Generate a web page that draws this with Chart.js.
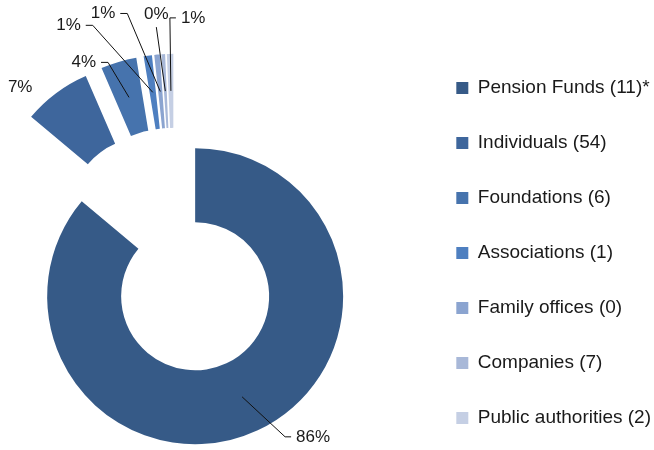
<!DOCTYPE html>
<html lang="en">
<head>
  <meta charset="UTF-8" />
  <title>Investors by type</title>
  <script src="https://cdn.jsdelivr.net/npm/chart.js"></script>
  <style>
    html, body {
      margin: 0;
      background: #fff;
      overflow: hidden;
    }
    /* canvas is wider/taller than the window so the ring sits low and left like the original */
    .chart-wrapper {
      position: absolute;
      left: -30px;
      top: 0;
      width: 691px;
      height: 550px;
    }
  </style>
</head>
<body>
  <div class="chart-wrapper">
    <canvas id="investorChart"></canvas>
  </div>
  <script>
    const categories = [
      'Pension Funds (11)*', 'Individuals (54)', 'Foundations (6)', 'Associations (1)',
      'Family offices (0)', 'Companies (7)', 'Public authorities (2)'
    ];
    const shares = [86.1, 7.4, 3.9, 0.9, 0.6, 0.4, 0.7];
    const colors = ['#365a87', '#3e669c', '#4673ad', '#4e7fc0', '#8ba4d0', '#a8b8d8', '#c5cfe4'];

    // explosion: each small slice is pulled out along its own angle,
    // and the pulled-out group is moved along the group's middle angle too
    const sliceExplode = [0, 50, 50, 50, 50, 50, 50];
    const groupExplode = 49;

    // elbow of each leader line, relative to the slice centre
    const labelElbow = [[43, 40], [-58, -35], [-21, -35], [-60, -67], [-33, -78], [-9, -64], [-1, -73]];
    const labelSide = ['right', 'none', 'left', 'left', 'left', 'top', 'right'];

    const FONT = '"Liberation Sans", Arial, sans-serif';

    function sliceShift(meta, i) {
      const arc = meta.data[i];
      const d = sliceExplode[i];
      if (!d) return { dx: 0, dy: 0 };
      const mid = (arc.startAngle + arc.endAngle) / 2;
      const idx = sliceExplode.map((v, j) => v > 0 ? j : -1).filter(j => j >= 0);
      const first = meta.data[idx[0]];
      const last = meta.data[idx[idx.length - 1]];
      const gmid = (first.startAngle + last.endAngle) / 2;
      return {
        dx: Math.cos(mid) * d + Math.cos(gmid) * groupExplode,
        dy: Math.sin(mid) * d + Math.sin(gmid) * groupExplode
      };
    }

    const explodePlugin = {
      id: 'explode',
      beforeDatasetDraw(chart, args) {
        const ctx = chart.ctx;
        args.meta.data.forEach((arc, i) => {
          const s = sliceShift(args.meta, i);
          ctx.save();
          ctx.translate(s.dx, s.dy);
          arc.draw(ctx);
          ctx.restore();
        });
        return false;
      }
    };

    const labelPlugin = {
      id: 'sliceLabels',
      afterDatasetsDraw(chart) {
        const meta = chart.getDatasetMeta(0);
        const ctx = chart.ctx;
        const total = shares.reduce((a, b) => a + b, 0);
        ctx.save();
        ctx.font = '17px ' + FONT;
        ctx.fillStyle = '#1a1a1a';
        ctx.strokeStyle = '#111';
        ctx.lineWidth = 1;
        ctx.textBaseline = 'middle';
        meta.data.forEach((arc, i) => {
          const s = sliceShift(meta, i);
          const c = arc.getCenterPoint();
          const ax = c.x + s.dx, ay = c.y + s.dy;
          const ex = ax + labelElbow[i][0], ey = ay + labelElbow[i][1];
          const text = Math.round(shares[i] / total * 100) + '%';
          const side = labelSide[i];
          if (side !== 'none') {
            ctx.beginPath();
            ctx.moveTo(ax, ay);
            ctx.lineTo(ex, ey);
            if (side === 'left') ctx.lineTo(ex - 7, ey);
            if (side === 'right') ctx.lineTo(ex + 6, ey);
            ctx.stroke();
          }
          if (side === 'left') {
            ctx.textAlign = 'right';
            ctx.fillText(text, ex - 12, ey);
          } else if (side === 'right') {
            ctx.textAlign = 'left';
            ctx.fillText(text, ex + 11, ey);
          } else if (side === 'top') {
            ctx.textAlign = 'center';
            ctx.fillText(text, ex, ey - 13);
          } else {
            ctx.textAlign = 'center';
            ctx.fillText(text, ex, ey);
          }
        });
        ctx.restore();
      }
    };

    const ctx = document.getElementById('investorChart').getContext('2d');
    new Chart(ctx, {
      type: 'doughnut',
      data: {
        labels: categories,
        datasets: [{
          data: shares,
          backgroundColor: colors,
          borderWidth: 0
        }]
      },
      options: {
        responsive: true,
        maintainAspectRatio: false,
        animation: false,
        radius: 148,
        cutout: '50%',
        layout: {
          padding: { top: 42.5, bottom: 0, left: 0, right: 0 }
        },
        plugins: {
          tooltip: { enabled: false },
          legend: {
            position: 'right',
            align: 'start',
            labels: {
              boxWidth: 12,
              boxHeight: 12,
              padding: 36,
              color: '#1a1a1a',
              font: { family: FONT, size: 19 }
            }
          }
        },
        events: []
      },
      plugins: [explodePlugin, labelPlugin]
    });
  </script>
</body>
</html>
